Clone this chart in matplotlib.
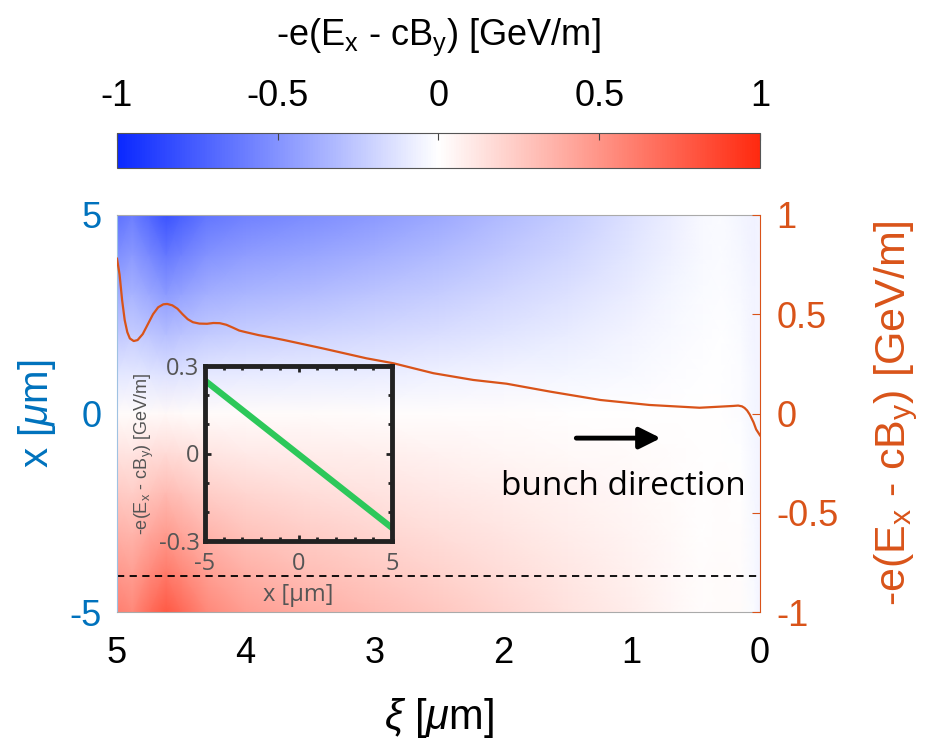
import matplotlib
matplotlib.use('Agg')
import matplotlib.pyplot as plt
import numpy as np
from matplotlib.colors import LinearSegmentedColormap
from matplotlib.ticker import MultipleLocator

plt.rcParams['font.family'] = ['Liberation Sans', 'DejaVu Sans']
plt.rcParams['mathtext.fontset'] = 'custom'
plt.rcParams['mathtext.rm'] = 'Liberation Sans'
plt.rcParams['mathtext.it'] = 'Liberation Sans:italic'
plt.rcParams['axes.unicode_minus'] = False

BLUE = '#0072BD'
ORANGE = '#D95319'

# transverse field map: edge amplitude along xi (upper / lower half) times a profile across x
xi_grid = [0.0, 0.05, 0.15, 0.3, 0.45, 0.7, 1.0, 1.5, 2.0, 2.5, 3.0, 3.5, 4.0, 4.3, 4.5, 4.62, 4.75, 4.88, 5.0]
amp_top = [0.0, 0.02, 0.03, 0.02, 0.03, 0.08, 0.14, 0.24, 0.32, 0.4, 0.47, 0.53, 0.58, 0.64, 0.74, 0.8, 0.7, 0.6, 0.66]
amp_bot = [0.0, 0.02, 0.03, 0.02, 0.01, 0.04, 0.08, 0.14, 0.2, 0.26, 0.32, 0.38, 0.46, 0.56, 0.7, 0.78, 0.68, 0.56, 0.6]
base_xi = [-0.05, -0.04, -0.01, 0, 0, 0, 0, 0, 0, 0, 0, 0, 0, 0, 0, 0, 0, 0, 0]
x_grid = [-5, -4, -3, -2, -1, 0, 1, 2, 3, 4, 5]
prof_x = [1.0, 0.8, 0.6, 0.41, 0.22, 0.03, -0.17, -0.38, -0.58, -0.79, -1.0]

# on-axis field vs xi (right axis)
xi_line = [5.0, 4.98, 4.96, 4.94, 4.92, 4.9, 4.87, 4.84, 4.8, 4.76, 4.72, 4.68, 4.64,
           4.61, 4.57, 4.53, 4.49, 4.45, 4.41, 4.36, 4.3, 4.25, 4.2, 4.15, 4.1, 4.05,
           4.0, 3.9, 3.8, 3.7, 3.5, 3.4, 3.06, 2.85, 2.54, 2.23, 1.97, 1.63, 1.24,
           0.86, 0.47, 0.21, 0.17, 0.14, 0.12, 0.1, 0.08, 0.05, 0.03, 0.0]
f_line = [0.78, 0.7, 0.57, 0.47, 0.41, 0.378, 0.365, 0.37, 0.4, 0.45, 0.5, 0.535, 0.55,
          0.552, 0.545, 0.528, 0.5, 0.475, 0.46, 0.453, 0.452, 0.456, 0.455, 0.447, 0.433, 0.418,
          0.41, 0.395, 0.383, 0.37, 0.342, 0.328, 0.278, 0.253, 0.203, 0.169, 0.15, 0.11, 0.068,
          0.043, 0.029, 0.038, 0.04, 0.036, 0.028, 0.015, -0.005, -0.045, -0.08, -0.11]

# linear focusing field across the bunch (inset)
x_inset = [-5, 5]
f_inset = [0.25, -0.255]

upper = (np.array(x_grid) >= 0)[:, None]
field = np.where(upper, np.outer(prof_x, amp_top), np.outer(prof_x, amp_bot))
field = field + np.array(base_xi)[None, :]

cmap = LinearSegmentedColormap.from_list('bwr2', ['#0a28ff', '#ffffff', '#ff2a10'])
flabel = r'-e($\mathrm{E_x}$ - c$\mathrm{B_y}$) [GeV/m]'

fig = plt.figure(figsize=(9.34, 7.47), dpi=100)
ax = fig.add_axes([117/934, 1-612/747, 643/934, 397/747])
cax = fig.add_axes([117/934, 1-168/747, 643/934, 35/747])

mesh = ax.pcolormesh(xi_grid, x_grid, field, cmap=cmap, vmin=-1, vmax=1,
                     shading='gouraud', rasterized=True)
ax.set_xlim(5, 0)
ax.set_ylim(-5, 5)
ax.set_xticks([5, 4, 3, 2, 1, 0])
ax.set_yticks([-5, 0, 5])
ax.tick_params(axis='x', labelsize=26, pad=17, direction='in', length=0)
ax.tick_params(axis='y', labelsize=26, pad=11, direction='in', length=0, labelcolor=BLUE)
ax.set_xlabel(r'$\xi$ [$\mu$m]', fontsize=30, labelpad=18)
ax.set_ylabel(r'x [$\mu$m]', fontsize=29, color=BLUE, labelpad=8)
for s in ['top', 'bottom']:
    ax.spines[s].set_color('#aaaaaa')
ax.spines['left'].set_color('#9fc2e2')
ax.spines['right'].set_visible(False)

ax.axhline(-4.1, color='k', ls=(0, (4, 3)), lw=1.3)
ax.annotate('', xy=(0.75, -0.62), xytext=(1.45, -0.62),
            arrowprops=dict(arrowstyle='-|>', lw=3.5, color='k', mutation_scale=32))
ax.text(1.06, -1.85, 'bunch direction', fontsize=24, family='Open Sans',
        ha='center', va='center')

# right axis with the on-axis lineout
ax2 = ax.twinx()
ax2.plot(xi_line, f_line, color=ORANGE, lw=1.6)
ax2.set_ylim(-1, 1)
ax2.set_yticks([-1, -0.5, 0, 0.5, 1])
ax2.set_yticklabels(['-1', '-0.5', '0', '0.5', '1'])
ax2.tick_params(axis='y', labelsize=26, colors=ORANGE, direction='in', length=6, pad=12)
ax2.spines['right'].set_color(ORANGE)
for s in ['top', 'bottom', 'left']:
    ax2.spines[s].set_visible(False)
ax2.set_ylabel(flabel, fontsize=31, color=ORANGE, labelpad=24)

# colorbar on top
cb = fig.colorbar(mesh, cax=cax, orientation='horizontal')
cb.set_ticks([-1, -0.5, 0, 0.5, 1])
cb.set_ticklabels(['-1', '-0.5', '0', '0.5', '1'])
cax.xaxis.set_ticks_position('top')
cax.xaxis.set_label_position('top')
cax.tick_params(labelsize=26, direction='in', length=5, pad=14, color='#444444')
cb.outline.set_edgecolor('#555555')
cb.set_label(flabel, fontsize=26, labelpad=24)

# inset
axi = fig.add_axes([205/934, 1-541/747, 187/934, 175/747])
axi.patch.set_alpha(0)
axi.plot(x_inset, f_inset, color='#2dc85a', lw=4.5)
axi.set_xlim(-5, 5)
axi.set_ylim(-0.3, 0.3)
axi.set_xticks([-5, 0, 5])
axi.set_yticks([-0.3, 0, 0.3])
axi.set_yticklabels(['-0.3', '0', '0.3'])
axi.xaxis.set_minor_locator(MultipleLocator(1))
axi.yaxis.set_minor_locator(MultipleLocator(0.1))
axi.tick_params(which='both', direction='in', top=True, right=True, color='#222222', width=2)
axi.tick_params(which='major', length=4, labelsize=17, labelcolor='#555555', pad=4)
axi.tick_params(axis='x', which='major', pad=8)
axi.tick_params(which='minor', length=3)
for lab in axi.get_xticklabels() + axi.get_yticklabels():
    lab.set_family('Open Sans')
for s in axi.spines.values():
    s.set_linewidth(3.5)
    s.set_color('#222222')
axi.set_xlabel('x [μm]', fontsize=17, color='#555555', family='Open Sans', labelpad=5)
axi.set_ylabel(flabel, fontsize=13, color='#555555', labelpad=2)

fig.savefig('out.png', dpi=100)
